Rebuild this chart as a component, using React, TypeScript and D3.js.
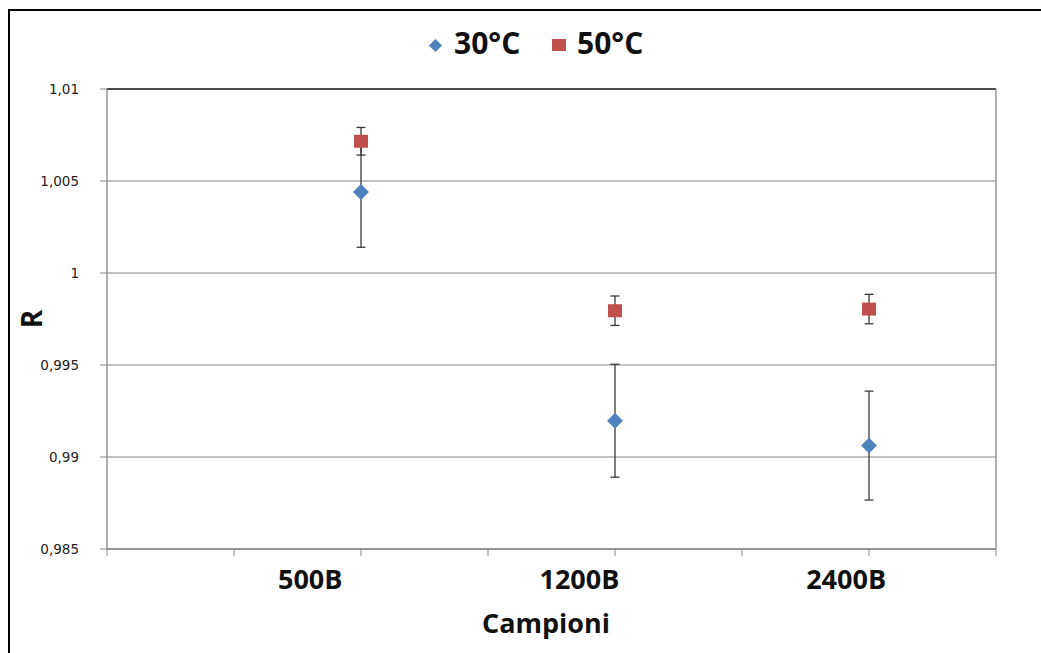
import React from "react";
import * as d3 from "d3";

const categories = ["500B", "1200B", "2400B"];
const categoryX = [1, 2, 3];
const labelX = [0.8, 1.86, 2.91];
const series30 = [1.0044, 0.99197, 0.99062];
const err30 = [0.003, 0.00307, 0.00296];
const series50 = [1.00716, 0.99795, 0.99804];
const err50 = [0.00075, 0.0008, 0.0008];
const yTicks = [0.985, 0.99, 0.995, 1, 1.005, 1.01];
const yTickLabels = ["0,985", "0,99", "0,995", "1", "1,005", "1,01"];
const xTicks = [0, 0.5, 1, 1.5, 2, 2.5, 3, 3.5];
const seriesNames = ["30°C", "50°C"];

const W = 1041;
const H = 653;
const BLUE = "#4F81BD";
const RED = "#C0504D";
const GRID = "#868686";
const ERR = "#3a3a3a";

export default function App() {
  const x = d3.scaleLinear().domain([0, 3.5]).range([107, 996]);
  const y = d3.scaleLinear().domain([0.985, 1.01]).range([549, 89]);
  const diamond = d3.symbol().type(d3.symbolDiamond2).size(160)();
  const legendDiamond = d3.symbol().type(d3.symbolDiamond2).size(110)();

  const errBar = (cx: number, v: number, e: number, key: string) => (
    <g key={key} stroke={ERR} strokeWidth={1.3}>
      <line x1={x(cx)} x2={x(cx)} y1={y(v + e)} y2={y(v - e)} />
      <line x1={x(cx) - 4.5} x2={x(cx) + 4.5} y1={y(v + e)} y2={y(v + e)} />
      <line x1={x(cx) - 4.5} x2={x(cx) + 4.5} y1={y(v - e)} y2={y(v - e)} />
    </g>
  );

  return (
    <svg
      width={W}
      height={H}
      style={{ position: "absolute", left: 0, top: 0, background: "#fff" }}
    >
      <rect x={0} y={0} width={W} height={H} fill="#fff" />
      <rect x={9} y={10} width={1100} height={700} fill="none" stroke="#000" strokeWidth={2} />

      {/* gridlines */}
      {yTicks.map((t) => (
        <line key={"g" + t} x1={x(0)} x2={x(3.5)} y1={y(t)} y2={y(t)} stroke={GRID} strokeWidth={1} />
      ))}
      {/* plot area borders */}
      <line x1={x(0)} x2={x(3.5)} y1={y(1.01)} y2={y(1.01)} stroke="#222" strokeWidth={1.3} />
      <line x1={x(3.5)} x2={x(3.5)} y1={y(1.01)} y2={y(0.985)} stroke={GRID} strokeWidth={1.3} />
      {/* y axis */}
      <line x1={x(0)} x2={x(0)} y1={y(1.01)} y2={y(0.985)} stroke={GRID} strokeWidth={1.3} />
      {yTicks.map((t, i) => (
        <g key={"yt" + t}>
          <line x1={x(0) - 7} x2={x(0)} y1={y(t)} y2={y(t)} stroke={GRID} strokeWidth={1} />
          <text
            x={79}
            y={y(t)}
            dy="0.36em"
            textAnchor="end"
            fontFamily="'DejaVu Sans', sans-serif"
            fontSize={13.5}
            fill="#222"
          >
            {yTickLabels[i]}
          </text>
        </g>
      ))}
      {/* x axis */}
      <line x1={x(0)} x2={x(3.5)} y1={y(0.985)} y2={y(0.985)} stroke={GRID} strokeWidth={1.3} />
      {xTicks.map((t) => (
        <line key={"xt" + t} x1={x(t)} x2={x(t)} y1={y(0.985)} y2={y(0.985) + 7} stroke={GRID} strokeWidth={1} />
      ))}
      {categories.map((c, i) => (
        <text
          key={c}
          x={x(labelX[i])}
          y={589}
          textAnchor="middle"
          fontFamily="'Open Sans', sans-serif"
          fontWeight="bold"
          fontSize={27}
          fill="#111"
        >
          {c}
        </text>
      ))}
      <text
        x={546}
        y={633}
        textAnchor="middle"
        fontFamily="'Open Sans', sans-serif"
        fontWeight="bold"
        fontSize={27}
        fill="#111"
      >
        Campioni
      </text>
      <text
        transform="translate(42,319) rotate(-90)"
        textAnchor="middle"
        fontFamily="'Open Sans', sans-serif"
        fontWeight="bold"
        fontSize={28}
        fill="#111"
      >
        R
      </text>

      {/* error bars */}
      {categoryX.map((cx, i) => errBar(cx, series30[i], err30[i], "e30" + i))}
      {categoryX.map((cx, i) => errBar(cx, series50[i], err50[i], "e50" + i))}

      {/* markers */}
      {categoryX.map((cx, i) => (
        <path key={"m30" + i} d={diamond} transform={`translate(${x(cx)},${y(series30[i])})`} fill={BLUE} />
      ))}
      {categoryX.map((cx, i) => (
        <rect
          key={"m50" + i}
          x={x(cx) - 7}
          y={y(series50[i]) - 6.5}
          width={14}
          height={13}
          fill={RED}
        />
      ))}

      {/* legend */}
      <path d={legendDiamond} transform="translate(435.5,45.5)" fill={BLUE} />
      <text x={454} y={54} fontFamily="'Open Sans', sans-serif" fontWeight="bold" fontSize={30} fill="#111">
        {seriesNames[0]}
      </text>
      <rect x={552} y={39} width={14} height={12} fill={RED} />
      <text x={577} y={54} fontFamily="'Open Sans', sans-serif" fontWeight="bold" fontSize={30} fill="#111">
        {seriesNames[1]}
      </text>
    </svg>
  );
}
